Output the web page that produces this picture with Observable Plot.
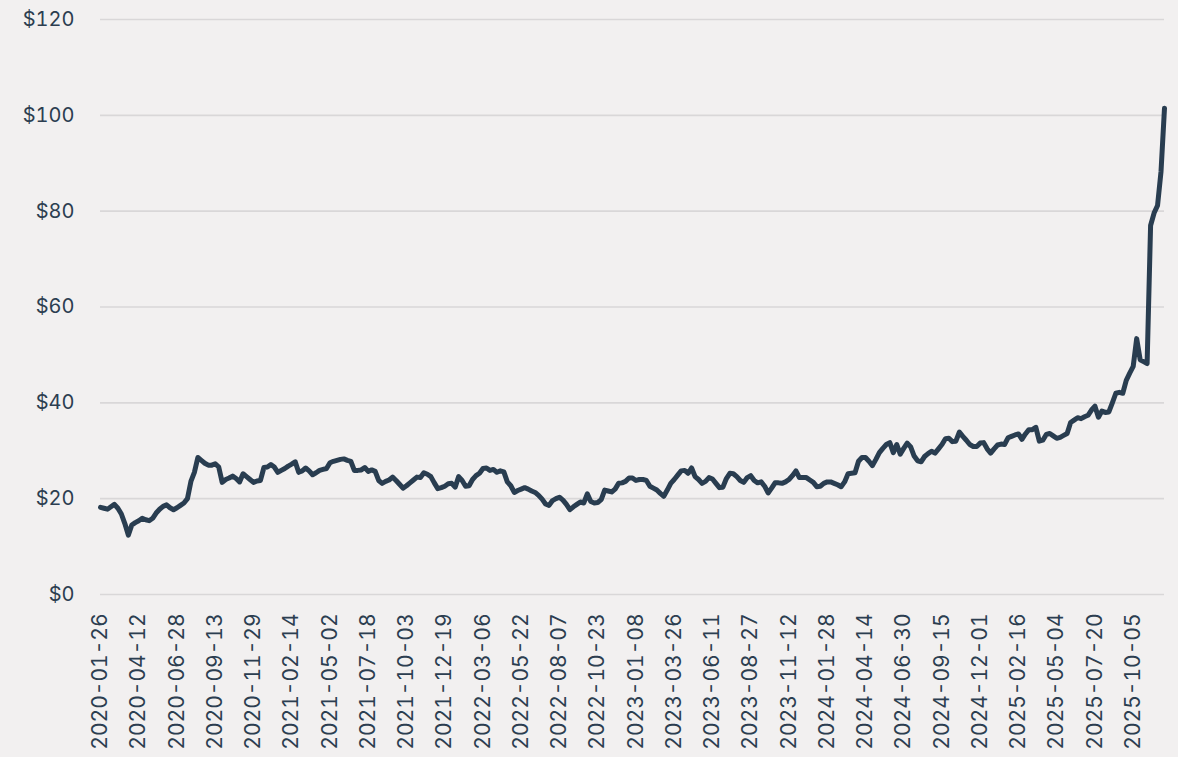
<!DOCTYPE html>
<html>
<head>
<meta charset="utf-8">
<script src="https://cdn.jsdelivr.net/npm/d3@7"></script>
<script src="https://cdn.jsdelivr.net/npm/@observablehq/plot@0.6"></script>
<style>
  html, body { margin: 0; padding: 0; background: #f2f0f0; }
  #chart { width: 1178px; height: 757px; }
</style>
</head>
<body>
<div id="chart"></div>
<script>
// Weekly series, first week 2020-01-26
const startDate = "2020-01-26";
const prices = [
  18.2, 18.0, 17.8, 18.3, 18.8, 18.0, 16.8, 14.8, 12.4, 14.5,
  15.0, 15.4, 15.9, 15.6, 15.4, 15.9, 17.0, 17.8, 18.4, 18.7,
  18.1, 17.7, 18.1, 18.6, 19.1, 20.0, 23.6, 25.5, 28.6, 28.0,
  27.4, 27.0, 27.0, 27.3, 26.6, 23.4, 24.0, 24.3, 24.7, 24.2,
  23.5, 25.2, 24.6, 24.0, 23.4, 23.7, 23.8, 26.5, 26.6, 27.1,
  26.6, 25.5, 25.9, 26.3, 26.8, 27.2, 27.7, 25.5, 25.8, 26.4,
  25.8, 25.0, 25.4, 25.9, 26.1, 26.3, 27.5, 27.8, 28.0, 28.2,
  28.3, 28.0, 27.8, 25.9, 25.9, 26.0, 26.5, 25.7, 26.0, 25.7,
  23.8, 23.2, 23.6, 23.9, 24.5, 23.8, 23.0, 22.2, 22.7, 23.3,
  23.9, 24.5, 24.4, 25.4, 25.1, 24.6, 23.3, 22.1, 22.3, 22.6,
  23.1, 23.2, 22.4, 24.6, 23.8, 22.6, 22.7, 24.0, 24.8, 25.3,
  26.3, 26.4, 25.9, 26.1, 25.5, 25.8, 25.6, 23.5, 22.7, 21.3,
  21.7, 22.0, 22.3, 22.0, 21.6, 21.3, 20.7, 19.9, 18.9, 18.6,
  19.6, 20.0, 20.3, 19.7, 18.8, 17.7, 18.3, 18.8, 19.3, 19.1,
  21.0, 19.4, 19.1, 19.2, 19.8, 21.8, 21.6, 21.4, 22.0, 23.2,
  23.3, 23.6, 24.3, 24.3, 23.8, 24.0, 24.0, 23.8, 22.6, 22.2,
  21.8, 21.1, 20.5, 21.8, 23.2, 24.0, 24.9, 25.8, 25.9, 25.3,
  26.4, 24.6, 24.0, 23.2, 23.6, 24.4, 24.1, 23.2, 22.3, 22.4,
  24.2, 25.3, 25.2, 24.6, 23.8, 23.4, 24.4, 24.8, 23.8, 23.3,
  23.5, 22.6, 21.2, 22.2, 23.3, 23.3, 23.2, 23.5, 24.0, 24.8,
  25.8, 24.4, 24.4, 24.4, 23.9, 23.4, 22.5, 22.6, 23.2, 23.5,
  23.5, 23.2, 22.9, 22.5, 23.5, 25.2, 25.3, 25.4, 27.8, 28.6,
  28.6, 27.8, 26.9, 28.2, 29.6, 30.5, 31.3, 31.7, 29.6, 31.3,
  29.3, 30.5, 31.6, 30.8, 28.9, 27.9, 27.7, 28.8, 29.4, 29.9,
  29.5, 30.4, 31.3, 32.5, 32.6, 31.9, 32.0, 33.9, 33.0, 32.2,
  31.3, 30.9, 30.9, 31.6, 31.7, 30.4, 29.5, 30.4, 31.2, 31.4,
  31.3, 32.7, 33.0, 33.3, 33.5, 32.4, 33.5, 34.4, 34.4, 34.9,
  32.0, 32.2, 33.4, 33.6, 33.1, 32.6, 32.8, 33.2, 33.6, 35.9,
  36.4, 36.9, 36.7, 37.1, 37.4, 38.5, 39.3, 37.0, 38.3, 38.0,
  38.1, 40.0, 42.0, 42.2, 42.0, 44.7, 46.2, 47.6, 53.4, 49.0,
  48.6, 48.2, 77.0, 79.6, 81.2, 88.3, 101.5
];
const xTickLabels = [
  "2020-01-26", "2020-04-12", "2020-06-28", "2020-09-13", "2020-11-29",
  "2021-02-14", "2021-05-02", "2021-07-18", "2021-10-03", "2021-12-19",
  "2022-03-06", "2022-05-22", "2022-08-07", "2022-10-23", "2023-01-08",
  "2023-03-26", "2023-06-11", "2023-08-27", "2023-11-12", "2024-01-28",
  "2024-04-14", "2024-06-30", "2024-09-15", "2024-12-01", "2025-02-16",
  "2025-05-04", "2025-07-20", "2025-10-05"
];
const yTicks = [0, 20, 40, 60, 80, 100, 120];

const parse = d3.utcParse("%Y-%m-%d");
const fmt = d3.utcFormat("%Y-%m-%d");
const start = parse(startDate);
const data = prices.map((v, i) => ({ date: d3.utcDay.offset(start, 7 * i), value: v }));
const tickDates = xTickLabels.map(parse);

const ink = "#2c3e50";
const chart = Plot.plot({
  width: 1178,
  height: 757,
  marginLeft: 100,
  marginRight: 14,
  marginTop: 19,
  marginBottom: 163,
  style: { background: "#f2f0f0", fontFamily: "Inter, sans-serif", fontSize: "20px", color: ink },
  x: { type: "utc", domain: [data[0].date, data[data.length - 1].date], label: null },
  y: { domain: [0, 120], label: null },
  marks: [
    Plot.gridY(yTicks, { stroke: "#d9d7d8", strokeOpacity: 1, strokeWidth: 1.6 }),
    Plot.axisY(yTicks, { tickSize: 0, tickPadding: 26, tickFormat: d => `$${d}`, fill: ink, fontSize: 20, label: null }),
    Plot.axisX(tickDates, { tickSize: 0, tickPadding: 19, tickRotate: -90, tickFormat: fmt, fill: ink, fontSize: 21, label: null }),
    Plot.line(data, { x: "date", y: "value", stroke: "#293d50", strokeWidth: 5, strokeLinejoin: "round", strokeLinecap: "round" })
  ]
});
document.getElementById("chart").appendChild(chart);
</script>
</body>
</html>
